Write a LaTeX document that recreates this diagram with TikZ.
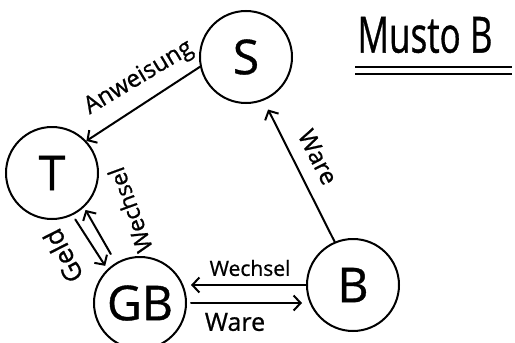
\documentclass[tikz,border=0pt]{standalone}
\usepackage{fontspec}
\setmainfont{Open Sans}[FakeBold=0.8]
\usetikzlibrary{arrows.meta}
\begin{document}
\begin{tikzpicture}[x=1pt,y=-1pt,
  stroke/.style={line width=2pt, line cap=round},
  circ/.style={circle, draw, line width=2pt, minimum size=92pt, inner sep=0pt, font=\fontsize{48}{48}\selectfont},
  arr/.style={stroke, -{Straight Barb[length=7pt,width=15pt]}},
  lab/.style={font=\fontsize{21}{21}\selectfont, inner sep=0pt}]
\clip (0,0) rectangle (515,343);
\fill[white] (0,0) rectangle (515,343);
\node[circ] (S) at (246,57) {S};
\node[circ] (T) at (52,173) {T};
\node[circ] (GB) at (140,303) {GB};
\node[circ] (B) at (353,285) {B};
% arrows
\draw[arr] (S.192) -- (T.43);
\draw[arr, shorten >=10pt] (B.113) -- (S.292);
\draw[arr, shorten >=4pt] (B.west) -- (GB.east |- B.west);
\draw[arr, shorten <=4pt, shorten >=4pt] (GB.east) -- (GB.east -| B.west);
\draw[arr, shorten <=5pt, shorten >=4pt] (T.296) -- (GB.134);
\draw[arr, shorten <=10pt, shorten >=3pt] (GB.121) -- (T.313);
% labels
\node[lab, font=\fontsize{24}{24}\selectfont, rotate=31] (lAnw) at (139,78) {Anweisung};
\node[lab, font=\fontsize{24}{24}\selectfont, rotate=-63] (lWare1) at (318,157) {Ware};
\node[lab] (lWech1) at (250,268) {Wechsel};
\node[lab, font=\fontsize{25}{25}\selectfont] (lWare2) at (235,322) {Ware};
\node[lab, font=\fontsize{26}{26}\selectfont, rotate=117] (lGeld) at (63,256) {Geld};
\node[lab, font=\fontsize{23}{23}\selectfont, rotate=110] (lWech2) at (130,210) {Wechsel};
% title
\node[font=\fontsize{50}{50}\selectfont, inner sep=0pt] (title) at (425,35) {\scalebox{0.7}[1]{Musto B}};
\draw[line width=2pt] (355,67) -- (512,67);
\draw[line width=1.4pt] (355,74) -- (512,74);
\end{tikzpicture}
\end{document}
